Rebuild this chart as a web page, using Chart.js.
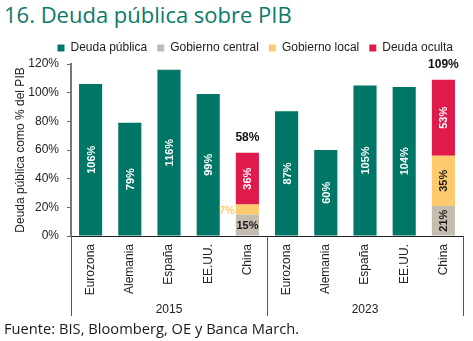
<!DOCTYPE html>
<html lang="es">
  <head>
    <meta charset="UTF-8" />
    <title>Deuda pública sobre PIB</title>
    <script src="https://cdn.jsdelivr.net/npm/chart.js"></script>
    <style>
      body { margin: 0; background: #ffffff; width: 473px; height: 341px; position: relative; overflow: hidden; }
      #titulo { position: absolute; left: 4px; top: -1px; font: 22px "Open Sans", sans-serif; color: #0b7a6c; }
      #grafico { position: absolute; left: 0; top: 29px; width: 473px; height: 290px; }
      #fuente { position: absolute; left: 4px; top: 318px; font: 14.7px "Open Sans", sans-serif; color: #1a1a1a; }
    </style>
  </head>
  <body>
    <div id="titulo">16. Deuda pública sobre PIB</div>
    <div id="grafico"><canvas id="deudaChart"></canvas></div>
    <div id="fuente">Fuente: BIS, Bloomberg, OE y Banca March.</div>
    <script>
      // Países y años del gráfico
      const paises = ["Eurozona", "Alemania", "España", "EE.UU.", "China", "Eurozona", "Alemania", "España", "EE.UU.", "China"];
      const anios = ["2015", "2023"];

      // Deuda en % del PIB
      const deudaPublica = [106, 79, 116, 99, null, 87, 60, 105, 104, null];
      const gobiernoCentral = [null, null, null, null, 15, null, null, null, null, 21];
      const gobiernoLocal = [null, null, null, null, 7, null, null, null, null, 35];
      const deudaOculta = [null, null, null, null, 36, null, null, null, null, 53];

      const ticksY = [0, 20, 40, 60, 80, 100, 120];

      Chart.defaults.font.family = '"Liberation Sans", Arial, sans-serif';
      Chart.defaults.font.size = 12;
      Chart.defaults.color = "#333333";

      // Etiquetas de valor dentro de las barras y totales de China
      const etiquetas = {
        id: "etiquetas",
        afterDatasetsDraw(chart) {
          const ctx = chart.ctx;
          ctx.save();
          ctx.font = 'bold 11px "Liberation Sans", Arial, sans-serif';
          chart.data.datasets.forEach((ds, di) => {
            const meta = chart.getDatasetMeta(di);
            meta.data.forEach((bar, i) => {
              const v = ds.data[i];
              if (v == null) return;
              const texto = v + "%";
              const alto = bar.base - bar.y;
              const ancho = ctx.measureText(texto).width;
              const centroY = (bar.y + bar.base) / 2;
              ctx.textBaseline = "middle";
              if (alto > ancho + 6) {
                ctx.save();
                ctx.translate(bar.x, centroY);
                ctx.rotate(-Math.PI / 2);
                ctx.textAlign = "center";
                ctx.fillStyle = ds.colorTexto;
                ctx.fillText(texto, 0, 1);
                ctx.restore();
              } else if (alto > 14) {
                ctx.textAlign = "center";
                ctx.fillStyle = ds.colorTexto;
                ctx.fillText(texto, bar.x, centroY + 1);
              } else {
                ctx.textAlign = "right";
                ctx.fillStyle = ds.backgroundColor;
                ctx.fillText(texto, bar.x - bar.width / 2 - 1, centroY + 1);
              }
            });
          });

          // total encima de las barras apiladas
          ctx.font = 'bold 12px "Liberation Sans", Arial, sans-serif';
          ctx.fillStyle = "#111111";
          ctx.textAlign = "center";
          ctx.textBaseline = "middle";
          chart.data.labels.forEach((_, i) => {
            let total = 0;
            let tope = null;
            let x = null;
            chart.data.datasets.forEach((ds, di) => {
              if (!ds.apilada || ds.data[i] == null) return;
              total += ds.data[i];
              const bar = chart.getDatasetMeta(di).data[i];
              x = bar.x;
              tope = tope == null ? bar.y : Math.min(tope, bar.y);
            });
            if (tope != null) ctx.fillText(total + "%", x, tope - 15);
          });
          ctx.restore();
        },
      };

      // Separadores y etiquetas de año bajo el eje X
      const grupos = {
        id: "grupos",
        afterDraw(chart) {
          const ctx = chart.ctx;
          const x = chart.scales.x;
          const area = chart.chartArea;
          const paso = x.getPixelForValue(1) - x.getPixelForValue(0);
          const porGrupo = paises.length / anios.length;
          ctx.save();
          ctx.strokeStyle = "#555555";
          ctx.lineWidth = 1;
          for (let g = 0; g <= anios.length; g++) {
            const px = Math.round(x.getPixelForValue(g * porGrupo) - paso / 2) + 0.5;
            ctx.beginPath();
            ctx.moveTo(px, area.bottom);
            ctx.lineTo(px, x.bottom);
            ctx.stroke();
          }
          ctx.fillStyle = "#222222";
          ctx.font = '12px "Liberation Sans", Arial, sans-serif';
          ctx.textAlign = "center";
          ctx.textBaseline = "middle";
          anios.forEach((a, g) => {
            const c = (x.getPixelForValue(g * porGrupo) + x.getPixelForValue(g * porGrupo + porGrupo - 1)) / 2;
            ctx.fillText(a, c, area.bottom + 74);
          });
          ctx.restore();
        },
      };

      new Chart(document.getElementById("deudaChart"), {
        type: "bar",
        data: {
          labels: paises,
          datasets: [
            { label: "Deuda pública", data: deudaPublica, backgroundColor: "#007766", colorTexto: "#ffffff" },
            { label: "Gobierno central", data: gobiernoCentral, backgroundColor: "#c4bcaf", colorTexto: "#1a1a1a", apilada: true },
            { label: "Gobierno local", data: gobiernoLocal, backgroundColor: "#fdcb6e", colorTexto: "#1a1a1a", apilada: true },
            { label: "Deuda oculta", data: deudaOculta, backgroundColor: "#e01b4c", colorTexto: "#ffffff", apilada: true },
          ],
        },
        options: {
          responsive: true,
          maintainAspectRatio: false,
          animation: false,
          barPercentage: 0.59,
          categoryPercentage: 1,
          layout: { padding: { left: 0, right: 10, top: 3, bottom: 3 } },
          plugins: {
            legend: {
              align: "end",
              labels: { boxWidth: 7, boxHeight: 7, padding: 10, color: "#222222", font: { size: 12 } },
            },
            tooltip: { enabled: false },
          },
          scales: {
            x: {
              stacked: true,
              grid: { display: false, drawTicks: false },
              border: { color: "#222222", width: 1 },
              ticks: { autoSkip: false, minRotation: 90, maxRotation: 90, padding: 8, color: "#222222" },
              afterFit(scale) { scale.height = 80; },
            },
            y: {
              stacked: true,
              min: 0,
              max: 120,
              afterBuildTicks(scale) { scale.ticks = ticksY.map((v) => ({ value: v })); },
              grid: { drawOnChartArea: false, drawTicks: true, tickLength: 4, color: "#666666" },
              border: { color: "#777777", width: 2 },
              ticks: { padding: 8, color: "#222222", callback: (v) => v + "%" },
              title: { display: true, text: "Deuda pública como % del PIB", color: "#222222", font: { size: 12 }, padding: { top: 13, bottom: 0 } },
              afterFit(scale) { scale.width = 71; },
            },
          },
        },
        plugins: [etiquetas, grupos],
      });
    </script>
  </body>
</html>
